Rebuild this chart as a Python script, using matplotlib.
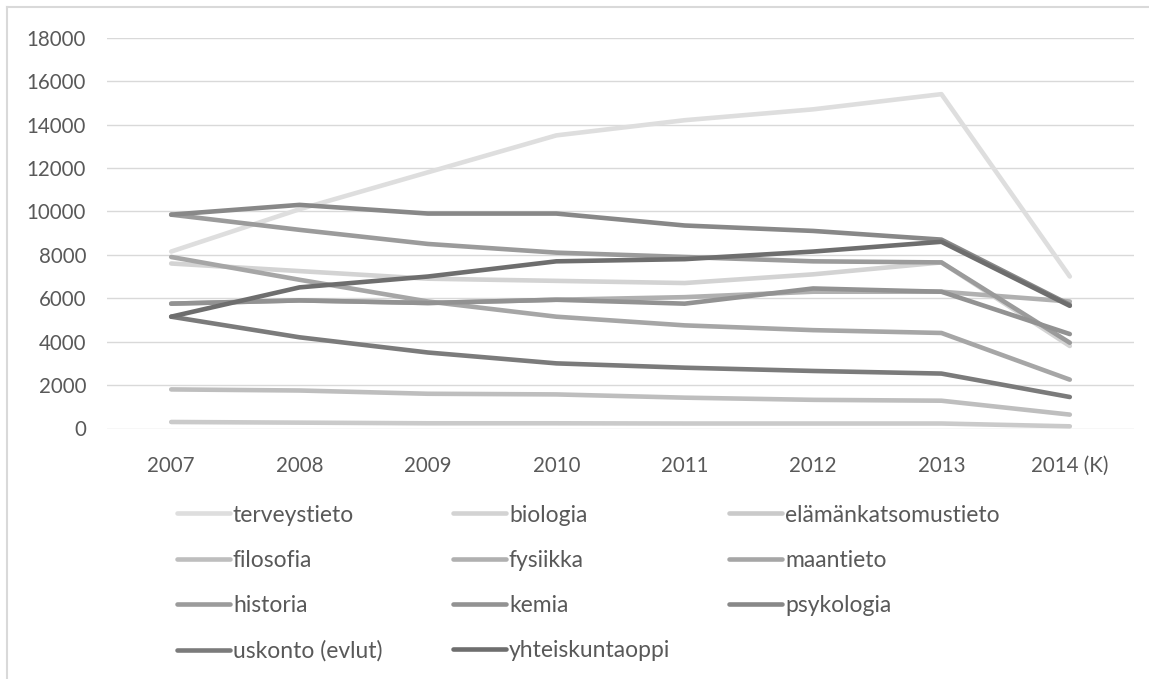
import matplotlib
matplotlib.use("Agg")
import matplotlib.pyplot as plt
from matplotlib.lines import Line2D
import numpy as np

plt.rcParams['font.family'] = ['Lato', 'DejaVu Sans']

years = ['2007', '2008', '2009', '2010', '2011', '2012', '2013', '2014 (K)']

terveystieto = [8150, 10100, 11800, 13500, 14200, 14700, 15400, 7000]
biologia = [7600, 7250, 6900, 6800, 6700, 7100, 7650, 3800]
elamankatsomustieto = [300, 270, 240, 240, 230, 230, 230, 100]
filosofia = [1800, 1750, 1600, 1570, 1420, 1320, 1280, 640]
fysiikka = [5750, 5900, 5780, 5930, 6050, 6300, 6300, 5850]
maantieto = [7900, 6850, 5850, 5150, 4750, 4530, 4400, 2250]
historia = [9850, 9150, 8500, 8100, 7900, 7700, 7650, 3950]
kemia = [5750, 5900, 5780, 5930, 5750, 6450, 6300, 4350]
psykologia = [9850, 10300, 9900, 9900, 9350, 9100, 8700, 5700]
uskonto = [5150, 4200, 3500, 3000, 2800, 2650, 2530, 1450]
yhteiskuntaoppi = [5150, 6500, 7000, 7700, 7800, 8150, 8600, 5650]

labels = ['terveystieto', 'biologia', 'elämänkatsomustieto', 'filosofia', 'fysiikka',
          'maantieto', 'historia', 'kemia', 'psykologia', 'uskonto (evlut)', 'yhteiskuntaoppi']
series = [terveystieto, biologia, elamankatsomustieto, filosofia, fysiikka,
          maantieto, historia, kemia, psykologia, uskonto, yhteiskuntaoppi]
colors = ['#dedede', '#d3d3d3', '#cacaca', '#bebebe', '#b0b0b0', '#a6a6a6',
          '#9b9b9b', '#929292', '#888888', '#7b7b7b', '#6e6e6e']

W, H = 1149, 679
fig = plt.figure(figsize=(W / 100, H / 100), dpi=100)
ax = fig.add_axes([107 / W, 1 - 428.5 / H, (1134 - 107) / W, (428.5 - 37.7) / H])

x = np.arange(len(years))
handles = []
for vals, lab, c in zip(series, labels, colors):
    h, = ax.plot(x, vals, color=c, lw=3.3, solid_capstyle='round', label=lab)
    handles.append(h)

ax.set_xlim(-0.5, len(years) - 0.5)
ax.set_ylim(0, 18000)
ax.set_yticks(np.arange(0, 18001, 2000))
ax.set_xticks(x)
ax.set_xticklabels(years)
ax.yaxis.grid(True, color='#d9d9d9', lw=1.0)
ax.set_axisbelow(True)
for s in ax.spines.values():
    s.set_visible(False)
ax.tick_params(axis='both', length=0, labelsize=14.8, colors='#595959')
ax.tick_params(axis='y', pad=15)
ax.tick_params(axis='x', pad=19.5)

# legend: three columns, placed like the original
col_x = [177, 453, 729]
cols = [[0, 3, 6, 9], [1, 4, 7, 10], [2, 5, 8]]
for cx, idx in zip(col_x, cols):
    leg = fig.legend([handles[i] for i in idx], [labels[i] for i in idx],
                     loc='upper left', bbox_to_anchor=(cx / W, 1 - 504.5 / H),
                     frameon=False, fontsize=16.5, handlelength=2.31, handletextpad=0.13,
                     labelspacing=1.06, borderpad=0, borderaxespad=0)
    for t in leg.get_texts():
        t.set_color('#595959')

# chart frame (top and left edges visible)
fig.add_artist(Line2D([7 / W, 7 / W], [0, 1 - 7 / H], color='#d9d9d9', lw=1.5))
fig.add_artist(Line2D([7 / W, 1], [1 - 7 / H, 1 - 7 / H], color='#d9d9d9', lw=1.5))

fig.savefig('out.png', dpi=100)
